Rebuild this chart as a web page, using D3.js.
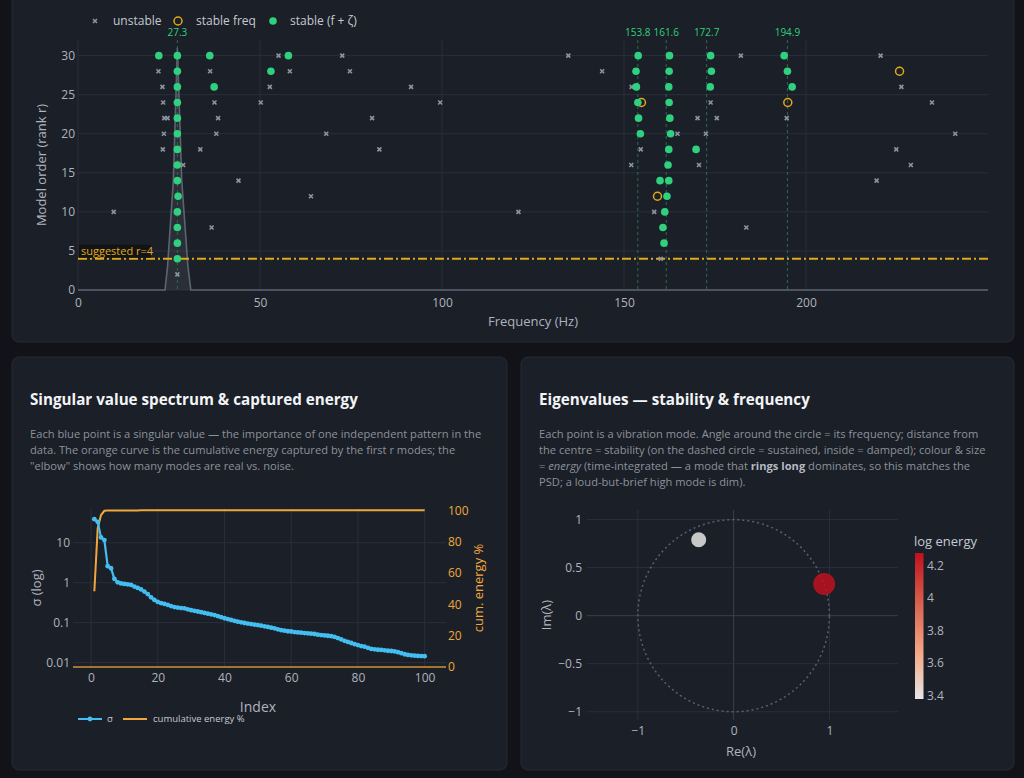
<!DOCTYPE html>
<html><head><meta charset="utf-8">
<script src="https://cdn.jsdelivr.net/npm/d3@7/dist/d3.min.js"></script>
<style>
html,body{margin:0;padding:0;background:#111318;}
svg{display:block;font-family:"Open Sans",sans-serif;}
</style></head>
<body>
<svg id="c" width="1024" height="778"></svg>
<script>
// ---------- Stabilisation diagram data ----------
const unstableF = [55.1,72.6,134.7,182.1,220.5, 22.1,36.3,58.2,74.7,144.0, 23.2,52.7,91.5,152.1,226.2,
  23.4,37.5,50.2,99.5,173.8,234.6, 23.7,24.6,38.5,80.8,170.2,175.5,194.7, 23.6,38.0,68.2,164.7,172.5,241.0,
  23.3,33.6,82.8,154.6,224.8, 28.9,152.0,170.6,228.8, 44.1,219.4, 64.0, 9.8,121.0,158.3, 36.7,183.6, 160.1, 27.3];
const unstableR = [30,30,30,30,30, 28,28,28,28,28, 26,26,26,26,26, 24,24,24,24,24,24, 22,22,22,22,22,22,22,
  20,20,20,20,20,20, 18,18,18,18,18, 16,16,16,16, 14,14, 12, 10,10,10, 8,8, 4, 2];
const stableFreqF = [225.7,154.8,195.0,159.2];
const stableFreqR = [28,24,24,12];
const stableF = [22.2,27.3,36.2,57.8,153.9,162.5,173.8,194.0,
  27.3,53.0,153.3,162.4,174.0,194.9,
  27.3,37.4,153.4,162.3,173.7,196.2,
  27.3,153.8,162.4, 27.3,154.0,162.6, 27.3,154.5,162.8, 27.3,162.3,169.8,
  27.3,162.1, 27.3,159.9,162.3, 27.5,161.8, 27.3,161.2, 27.3,160.7, 27.3,161.0, 27.3];
const stableR = [30,30,30,30,30,30,30,30, 28,28,28,28,28,28, 26,26,26,26,26,26,
  24,24,24, 22,22,22, 20,20,20, 18,18,18, 16,16, 14,14,14, 12,12, 10,10, 8,8, 6,6, 4];
const peakFreqs = [27.3,153.8,161.6,172.7,194.9];
const psdF = [0,23.9,24.6,26.2,27.3,28.5,30.2,31.0,250];
const psdV = [0,0,3,14,31,14,3,0,0];
const suggestedR = 4;
const xTicksTop = [0,50,100,150,200];
const yTicksTop = [0,5,10,15,20,25,30];

// ---------- Singular values ----------
const svIndex = d3.range(1,101);
const sigma = [39,33.5,13.6,11.7,2.6,2.3,1.25,1.02,0.96,0.93,
  0.91,0.88,0.80,0.74,0.68,0.60,0.52,0.43,0.37,0.33,
  0.31,0.295,0.28,0.26,0.245,0.238,0.232,0.228,0.215,0.205,
  0.198,0.19,0.183,0.175,0.168,0.162,0.155,0.146,0.137,0.129,
  0.123,0.117,0.111,0.106,0.102,0.098,0.095,0.092,0.089,0.087,
  0.084,0.081,0.078,0.075,0.072,0.068,0.065,0.063,0.061,0.060,
  0.058,0.057,0.056,0.055,0.054,0.053,0.052,0.050,0.049,0.048,
  0.047,0.046,0.044,0.041,0.038,0.035,0.033,0.031,0.029,0.0275,
  0.026,0.025,0.0235,0.022,0.0215,0.021,0.0208,0.0203,0.0198,0.0195,
  0.019,0.0182,0.0172,0.0162,0.0156,0.0152,0.0149,0.0147,0.0146,0.0145];
const cumEnergy = [48.4,88.5,97.0,99.7,99.85,99.9,99.93,99.95,99.96,99.97,
  99.97,99.98,99.98,99.98,99.99,99.99,99.99,99.99,99.99,99.99,
  99.99,99.99,99.99,99.99,99.99,100,100,100,100,100,
  100,100,100,100,100,100,100,100,100,100,
  100,100,100,100,100,100,100,100,100,100,
  100,100,100,100,100,100,100,100,100,100,
  100,100,100,100,100,100,100,100,100,100,
  100,100,100,100,100,100,100,100,100,100,
  100,100,100,100,100,100,100,100,100,100,
  100,100,100,100,100,100,100,100,100,100];
const svXTicks = [0,20,40,60,80,100];
const svYTicks = [0.01,0.1,1,10];
const cumTicks = [0,20,40,60,80,100];

// ---------- Eigenvalues ----------
const eigRe = [-0.365, 0.945];
const eigIm = [0.79, 0.33];
const eigLogEnergy = [3.38, 4.276];
const cbTicks = [3.4,3.6,3.8,4.0,4.2];

// ---------- styling ----------
const C = {card:"#1b1f27", cardStroke:"#262b35", grid:"#2a2f3a", tick:"#aeb4be", title:"#f2f4f7",
  desc:"#8b929c", green:"#2fd07e", gold:"#e0aa1a", gray:"#8c94a0", blue:"#44bdf0", orange:"#f0a83c"};

const svg = d3.select("#c");
function card(x,y,w,h){ svg.append("rect").attr("x",x).attr("y",y).attr("width",w).attr("height",h)
  .attr("rx",7).attr("fill",C.card).attr("stroke",C.cardStroke); }
card(12,-10,1002,352);
card(12,357,495,413);
card(521,357,493,413);

// ================= TOP CHART =================
{
  const L=78,R=988,T=40,B=290;
  const x=d3.scaleLinear().domain([0,250]).range([L,R]);
  const y=d3.scaleLinear().domain([0,32]).range([B,T]);
  const g=svg.append("g");
  g.selectAll(".vg").data(xTicksTop).join("line").attr("x1",d=>x(d)).attr("x2",d=>x(d)).attr("y1",T).attr("y2",B).attr("stroke",C.grid);
  g.selectAll(".hg").data(yTicksTop).join("line").attr("x1",L).attr("x2",R).attr("y1",d=>y(d)).attr("y2",d=>y(d)).attr("stroke",C.grid);
  const xa=g.append("g").attr("transform",`translate(0,${B})`).call(d3.axisBottom(x).tickValues(xTicksTop).tickSize(0).tickPadding(8));
  const ya=g.append("g").attr("transform",`translate(${L},0)`).call(d3.axisLeft(y).tickValues(yTicksTop).tickSize(0).tickPadding(3));
  [xa,ya].forEach(a=>{a.select(".domain").remove();a.selectAll("text").attr("fill",C.tick).attr("font-size",12).attr("font-family","Open Sans");});
  const psd=psdF.map((f,i)=>[f,psdV[i]]);
  g.append("path").datum(psd).attr("d",d3.area().x(d=>x(d[0])).y0(y(0)).y1(d=>y(d[1])))
    .attr("fill","rgba(150,160,175,0.12)");
  g.append("path").datum(psd).attr("d",d3.line().x(d=>x(d[0])).y(d=>y(d[1])))
    .attr("fill","none").attr("stroke","#5c6470").attr("stroke-width",1.6);
  g.selectAll(".pk").data(peakFreqs).join("line").attr("x1",d=>x(d)).attr("x2",d=>x(d)).attr("y1",T).attr("y2",B)
    .attr("stroke","#2c6a52").attr("stroke-width",1).attr("stroke-dasharray","3,3");
  g.selectAll(".pkl").data(peakFreqs).join("text").attr("x",d=>x(d)).attr("y",T-4).attr("text-anchor","middle")
    .attr("fill",C.green).attr("font-size",10).text(d=>d.toFixed(1));
  g.append("line").attr("x1",L).attr("x2",R).attr("y1",y(suggestedR)).attr("y2",y(suggestedR))
    .attr("stroke",C.gold).attr("stroke-width",1.8).attr("stroke-dasharray","9,3,2,3");
  const sx=d3.symbol(d3.symbolX,12);
  g.selectAll(".un").data(unstableF.map((f,i)=>[f,unstableR[i]])).join("path")
    .attr("transform",d=>`translate(${x(d[0])},${y(d[1])})`).attr("d",sx)
    .attr("stroke",C.gray).attr("stroke-width",1.6).attr("fill","none");
  g.selectAll(".sf").data(stableFreqF.map((f,i)=>[f,stableFreqR[i]])).join("circle")
    .attr("cx",d=>x(d[0])).attr("cy",d=>y(d[1])).attr("r",4).attr("fill","none").attr("stroke",C.gold).attr("stroke-width",1.5);
  g.selectAll(".st").data(stableF.map((f,i)=>[f,stableR[i]])).join("circle")
    .attr("cx",d=>x(d[0])).attr("cy",d=>y(d[1])).attr("r",3.8).attr("fill",C.green);
  const lb=g.append("g");
  lb.append("rect").attr("x",L+1).attr("y",y(suggestedR)-14).attr("width",72).attr("height",13).attr("fill","#111215").attr("opacity",0.85);
  lb.append("text").attr("x",L+3).attr("y",y(suggestedR)-4).attr("fill",C.gold).attr("font-size",11).text("suggested r=4");
  g.append("text").attr("transform",`translate(46,${(T+B)/2}) rotate(-90)`).attr("text-anchor","middle")
    .attr("fill",C.tick).attr("font-size",13).text("Model order (rank r)");
  g.append("text").attr("x",533).attr("y",326).attr("text-anchor","middle").attr("fill",C.tick).attr("font-size",13).text("Frequency (Hz)");
  const lg=g.append("g").attr("font-size",12).attr("fill","#c4cad3");
  lg.append("path").attr("transform","translate(95,21)").attr("d",sx).attr("stroke",C.gray).attr("stroke-width",1.6);
  lg.append("text").attr("x",113).attr("y",25).text("unstable");
  lg.append("circle").attr("cx",178).attr("cy",21).attr("r",4).attr("fill","none").attr("stroke",C.gold).attr("stroke-width",1.5);
  lg.append("text").attr("x",196).attr("y",25).text("stable freq");
  lg.append("circle").attr("cx",273).attr("cy",21).attr("r",3.8).attr("fill",C.green);
  lg.append("text").attr("x",290).attr("y",25).text("stable (f + ζ)");
}

// ================= CARD TEXTS =================
function titleDesc(x, title, lines){
  svg.append("text").attr("x",x).attr("y",405).attr("fill",C.title).attr("font-size",15.2).attr("font-weight",700)
    .attr("font-family","Open Sans").text(title);
  lines.forEach((ln,i)=>{
    const t=svg.append("text").attr("x",x).attr("y",438+i*16).attr("fill",C.desc).attr("font-size",11.15);
    ln.forEach(seg=>{const s=t.append("tspan").text(seg.t); if(seg.b) s.attr("font-weight",700).attr("fill","#b5bbc4"); if(seg.i) s.attr("font-style","italic");});
  });
}
titleDesc(30,"Singular value spectrum & captured energy",[
  [{t:"Each blue point is a singular value — the importance of one independent pattern in the"}],
  [{t:"data. The orange curve is the cumulative energy captured by the first r modes; the"}],
  [{t:"\"elbow\" shows how many modes are real vs. noise."}]]);
titleDesc(539,"Eigenvalues — stability & frequency",[
  [{t:"Each point is a vibration mode. Angle around the circle = its frequency; distance from"}],
  [{t:"the centre = stability (on the dashed circle = sustained, inside = damped); colour & size"}],
  [{t:"= "},{t:"energy",i:true},{t:" (time-integrated — a mode that "},{t:"rings long",b:true},{t:" dominates, so this matches the"}],
  [{t:"PSD; a loud-but-brief high mode is dim)."}]]);

// ================= SINGULAR VALUES =================
{
  const L=73,R=446,T=508,B=667;
  const x=d3.scaleLinear().domain([-5.4,106.4]).range([L,R]);
  const y=d3.scaleLog().domain([Math.pow(10,-2.11),Math.pow(10,1.87)]).range([B,T]);
  const y2=d3.scaleLinear().domain([0,101.5]).range([B,T]);
  const g=svg.append("g");
  g.selectAll(".vg").data(svXTicks).join("line").attr("x1",d=>x(d)).attr("x2",d=>x(d)).attr("y1",T).attr("y2",B).attr("stroke",C.grid);
  g.selectAll(".hg").data(svYTicks).join("line").attr("x1",L).attr("x2",R).attr("y1",d=>y(d)).attr("y2",d=>y(d)).attr("stroke",C.grid);
  const xa=g.append("g").attr("transform",`translate(0,${B})`).call(d3.axisBottom(x).tickValues(svXTicks).tickSize(0).tickPadding(6));
  const ya=g.append("g").attr("transform",`translate(${L-1},0)`).call(d3.axisLeft(y).tickValues(svYTicks).tickFormat(d=>String(d)).tickSize(0).tickPadding(2));
  const ya2=g.append("g").attr("transform",`translate(${R+2},0)`).call(d3.axisRight(y2).tickValues(cumTicks).tickSize(0).tickPadding(0));
  [xa,ya,ya2].forEach(a=>{a.select(".domain").remove();a.selectAll("text").attr("fill",C.tick).attr("font-size",12).attr("font-family","Open Sans");});
  ya2.selectAll("text").attr("fill",C.orange);
  g.append("line").attr("x1",L).attr("x2",R).attr("y1",B).attr("y2",B).attr("stroke",C.orange).attr("stroke-width",1.5).attr("opacity",0.85);
  g.append("path").datum(svIndex.map((d,i)=>[d,cumEnergy[i]])).attr("d",d3.line().x(d=>x(d[0])).y(d=>y2(d[1])))
    .attr("fill","none").attr("stroke",C.orange).attr("stroke-width",2);
  const sd=svIndex.map((d,i)=>[d,sigma[i]]);
  g.append("path").datum(sd).attr("d",d3.line().x(d=>x(d[0])).y(d=>y(d[1])))
    .attr("fill","none").attr("stroke",C.blue).attr("stroke-width",2.2);
  g.selectAll(".sp").data(sd).join("circle").attr("cx",d=>x(d[0])).attr("cy",d=>y(d[1])).attr("r",2.4).attr("fill",C.blue);
  g.append("text").attr("transform",`translate(41,588) rotate(-90)`).attr("text-anchor","middle").attr("fill",C.tick).attr("font-size",13).text("σ (log)");
  g.append("text").attr("transform",`translate(483,588) rotate(-90)`).attr("text-anchor","middle").attr("fill",C.orange).attr("font-size",13).text("cum. energy %");
  g.append("text").attr("x",258).attr("y",712).attr("text-anchor","middle").attr("fill",C.tick).attr("font-size",14).text("Index");
  const lg=g.append("g").attr("font-size",9.5).attr("fill","#c4cad3");
  lg.append("line").attr("x1",78).attr("x2",102).attr("y1",719).attr("y2",719).attr("stroke",C.blue).attr("stroke-width",2);
  lg.append("circle").attr("cx",90).attr("cy",719).attr("r",2.4).attr("fill",C.blue);
  lg.append("text").attr("x",107).attr("y",722).text("σ");
  lg.append("line").attr("x1",123).attr("x2",147).attr("y1",719).attr("y2",719).attr("stroke",C.orange).attr("stroke-width",2);
  lg.append("text").attr("x",153).attr("y",722).text("cumulative energy %");
}

// ================= EIGENVALUES =================
{
  const L=587,R=898,T=510,B=720;
  const x=d3.scaleLinear().domain([-1.531,1.716]).range([L,R]);
  const y=d3.scaleLinear().domain([-1.086,1.10]).range([B,T]);
  const g=svg.append("g");
  const xt=[-1,0,1], yt=[-1,-0.5,0,0.5,1];
  g.selectAll(".vg").data(xt).join("line").attr("x1",d=>x(d)).attr("x2",d=>x(d)).attr("y1",T).attr("y2",B)
    .attr("stroke",d=>d===0?"#3a404c":C.grid);
  g.selectAll(".hg").data(yt).join("line").attr("x1",L).attr("x2",R).attr("y1",d=>y(d)).attr("y2",d=>y(d))
    .attr("stroke",d=>d===0?"#3a404c":C.grid);
  const fmt=d=>d<0?"−"+Math.abs(d):String(d);
  const xa=g.append("g").attr("transform",`translate(0,${B})`).call(d3.axisBottom(x).tickValues(xt).tickFormat(fmt).tickSize(0).tickPadding(6));
  const ya=g.append("g").attr("transform",`translate(${L-5},0)`).call(d3.axisLeft(y).tickValues(yt).tickFormat(fmt).tickSize(0).tickPadding(0));
  [xa,ya].forEach(a=>{a.select(".domain").remove();a.selectAll("text").attr("fill",C.tick).attr("font-size",12).attr("font-family","Open Sans");});
  const circ=d3.range(0,361,2).map(a=>[Math.cos(a*Math.PI/180),Math.sin(a*Math.PI/180)]);
  g.append("path").datum(circ).attr("d",d3.line().x(d=>x(d[0])).y(d=>y(d[1])))
    .attr("fill","none").attr("stroke","#5a616d").attr("stroke-width",1.5).attr("stroke-dasharray","2,3");
  const cmin=3.38,cmax=4.276;
  const col=d3.scaleLinear().domain([cmin,cmin+(cmax-cmin)*0.33,cmin+(cmax-cmin)*0.66,cmax])
    .range(["#e6e6e6","#f4a582","#d6604d","#c0101e"]);
  const rs=d3.scaleLinear().domain([cmin,cmax]).range([7.5,11]);
  g.selectAll(".ev").data(eigRe.map((r,i)=>({r,im:eigIm[i],e:eigLogEnergy[i]}))).join("circle")
    .attr("cx",d=>x(d.r)).attr("cy",d=>y(d.im)).attr("r",d=>rs(d.e)).attr("fill",d=>col(d.e)).attr("opacity",0.85);
  const cy=d3.scaleLinear().domain([cmin,cmax]).range([699,553]);
  const defs=svg.append("defs");
  const grad=defs.append("linearGradient").attr("id","cb").attr("x1",0).attr("x2",0).attr("y1",1).attr("y2",0);
  d3.range(0,1.001,0.1).forEach(t=>grad.append("stop").attr("offset",t).attr("stop-color",col(cmin+t*(cmax-cmin))));
  g.append("rect").attr("x",915).attr("y",553).attr("width",8.5).attr("height",146).attr("fill","url(#cb)");
  const ca=g.append("g").attr("transform","translate(924,0)").call(d3.axisRight(cy).tickValues(cbTicks).tickFormat(d=>String(+d.toFixed(1))).tickSize(0).tickPadding(3));
  ca.select(".domain").remove(); ca.selectAll("text").attr("fill",C.tick).attr("font-size",12).attr("font-family","Open Sans");
  g.append("text").attr("x",914).attr("y",546).attr("fill","#c4cad3").attr("font-size",13).text("log energy");
  g.append("text").attr("x",741).attr("y",756).attr("text-anchor","middle").attr("fill",C.tick).attr("font-size",13).text("Re(λ)");
  g.append("text").attr("transform",`translate(551,615) rotate(-90)`).attr("text-anchor","middle").attr("fill",C.tick).attr("font-size",13).text("Im(λ)");
}
</script>
</body></html>
